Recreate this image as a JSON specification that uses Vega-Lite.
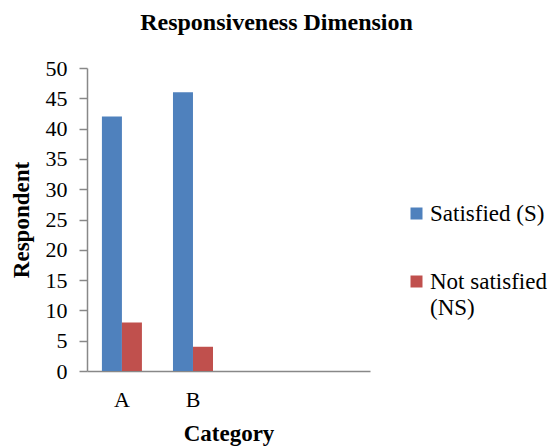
{
  "$schema": "https://vega.github.io/schema/vega-lite/v6.json",
  "width": 283,
  "height": 303,
  "autosize": {"type": "none"},
  "padding": {"left": 87, "top": 68, "right": 183, "bottom": 76},
  "background": "white",
  "title": {"text": "Responsiveness Dimension", "font": "Liberation Serif", "fontSize": 24, "fontWeight": "bold", "color": "#000000", "anchor": "middle", "dx": 48, "offset": 22},
  "data": {"values": [
    {"category": "A", "series": "Satisfied (S)", "value": 42},
    {"category": "A", "series": "Not satisfied (NS)", "value": 8},
    {"category": "B", "series": "Satisfied (S)", "value": 46},
    {"category": "B", "series": "Not satisfied (NS)", "value": 4}
  ]},
  "mark": {"type": "bar"},
  "encoding": {
    "x": {
      "field": "category", "type": "nominal",
      "scale": {"domain": ["A", "B", "C", "D"], "paddingInner": 0.437, "paddingOuter": 0.21},
      "axis": {"title": "Category", "labelAngle": 0, "labelExpr": "datum.value == 'A' || datum.value == 'B' ? datum.value : ''", "ticks": false, "tickSize": 0, "labelPadding": 18, "titlePadding": 12, "domainColor": "#888888", "domainWidth": 1.5, "labelFont": "Liberation Serif", "labelFontSize": 22, "labelColor": "#000000", "titleFont": "Liberation Serif", "titleFontSize": 23, "titleFontWeight": "bold", "titleColor": "#000000"}
    },
    "xOffset": {"field": "series", "type": "nominal", "scale": {"domain": ["Satisfied (S)", "Not satisfied (NS)"], "paddingInner": 0, "paddingOuter": 0}},
    "y": {
      "field": "value", "type": "quantitative",
      "scale": {"domain": [0, 50]},
      "axis": {"values": [0, 5, 10, 15, 20, 25, 30, 35, 40, 45, 50], "title": "Respondent", "grid": false, "domainColor": "#888888", "domainWidth": 1.5, "tickColor": "#888888", "tickSize": 8, "tickWidth": 1.5, "labelPadding": 12, "labelFont": "Liberation Serif", "labelFontSize": 22, "labelColor": "#000000", "titleFont": "Liberation Serif", "titleFontSize": 23, "titleFontWeight": "bold", "titleColor": "#000000", "titlePadding": 12}
    },
    "color": {
      "field": "series", "type": "nominal",
      "scale": {"domain": ["Satisfied (S)", "Not satisfied (NS)"], "range": ["#4F81BD", "#C0504D"]},
      "legend": {"title": null, "orient": "none", "legendX": 318, "legendY": 134, "padding": 0, "symbolType": "square", "symbolSize": 144, "symbolStrokeWidth": 0, "labelFont": "Liberation Serif", "labelFontSize": 23, "labelColor": "#000000", "labelLimit": 250, "labelOffset": 2, "rowPadding": 44, "labelBaseline": "alphabetic", "labelExpr": "datum.label == 'Not satisfied (NS)' ? ['Not satisfied', '(NS)'] : datum.label", "encode": {"labels": {"update": {"dy": {"value": 7}, "lineHeight": {"value": 26}, "font": {"value": "Liberation Serif"}, "fontSize": {"value": 23}}}}}
    }
  },
  "config": {"view": {"stroke": null}}
}
